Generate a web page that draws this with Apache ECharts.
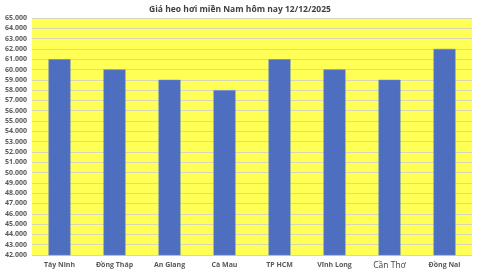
<!DOCTYPE html>
<html><head><meta charset="utf-8">
<script src="https://cdn.jsdelivr.net/npm/echarts@6/dist/echarts.min.js"></script>
<style>html,body{margin:0;padding:0;background:#fff}#c{width:480px;height:270px}</style>
</head><body><div id="c"></div>
<script>
const categories = ["Tây Ninh","Đồng Tháp","An Giang","Cà Mau","TP HCM","Vĩnh Long","Cần Thơ","Đồng Nai"];
const prices = [61000,60000,59000,58000,61000,60000,59000,62000];
const title = "Giá heo hơi miền Nam hôm nay 12/12/2025";
const yMin = 42000, yMax = 65000, yStep = 1000;

const chart = echarts.init(document.getElementById('c'), null, {renderer:'canvas'});
chart.setOption({
  animation:false,
  backgroundColor:'#ffffff',
  title:{text:title,left:'center',top:0,textStyle:{fontFamily:'Open Sans',fontSize:8.5,fontWeight:'bold',color:'#404040'}},
  grid:{left:32,right:8,top:18,bottom:15,show:true,backgroundColor:'#FFFF55',borderWidth:0},
  xAxis:{type:'category',data:categories,
    axisLine:{show:false},axisTick:{show:false},
    axisLabel:{interval:0,fontFamily:'Open Sans',fontSize:7,fontWeight:'bold',color:'#595959',margin:6,
      formatter:function(v){return v==='Cần Thơ'?'{b|'+v+'}':v;},
      rich:{b:{fontFamily:'Open Sans',fontSize:8.5,fontWeight:500,color:'#404040'}}}},
  yAxis:{type:'value',min:yMin,max:yMax,interval:yStep,
    axisLine:{show:false},axisTick:{show:false},
    splitLine:{lineStyle:{color:'#D6D6B8',width:1}},
    axisLabel:{fontFamily:'Open Sans',fontSize:7,fontWeight:'bold',color:'#595959',margin:5,
      formatter:function(v){return (v/1000).toFixed(3);}}},
  series:[{type:'bar',data:prices,barWidth:'40%',
    itemStyle:{color:'#4E6EC0',borderColor:'#6A84C8',borderWidth:0.5}}]
});
</script></body></html>
